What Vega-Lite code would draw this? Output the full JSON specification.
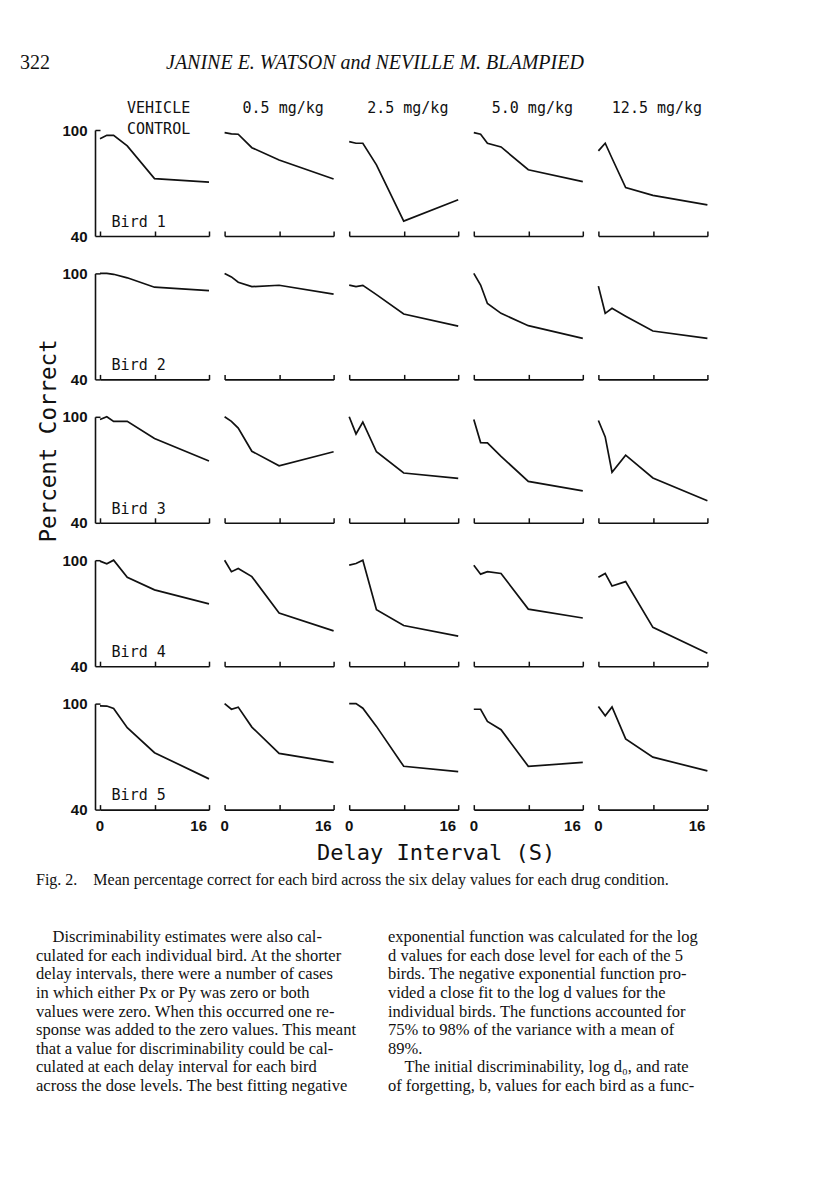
{
  "$schema": "https://vega.github.io/schema/vega-lite/v6.json",
  "background": "white",
  "padding": {"left": 20, "top": 34, "right": 10, "bottom": 5},
  "datasets": {
    "pc": [
      {"bird": "Bird 1", "dose": "VEHICLE\nCONTROL", "delay": 0, "pc": 95},
      {"bird": "Bird 1", "dose": "VEHICLE\nCONTROL", "delay": 1, "pc": 97},
      {"bird": "Bird 1", "dose": "VEHICLE\nCONTROL", "delay": 2, "pc": 97},
      {"bird": "Bird 1", "dose": "VEHICLE\nCONTROL", "delay": 4, "pc": 91},
      {"bird": "Bird 1", "dose": "VEHICLE\nCONTROL", "delay": 8, "pc": 72.5},
      {"bird": "Bird 1", "dose": "VEHICLE\nCONTROL", "delay": 16, "pc": 70.5},
      {"bird": "Bird 1", "dose": "0.5 mg/kg", "delay": 0, "pc": 98.5},
      {"bird": "Bird 1", "dose": "0.5 mg/kg", "delay": 1, "pc": 97.8},
      {"bird": "Bird 1", "dose": "0.5 mg/kg", "delay": 2, "pc": 97.6},
      {"bird": "Bird 1", "dose": "0.5 mg/kg", "delay": 4, "pc": 90},
      {"bird": "Bird 1", "dose": "0.5 mg/kg", "delay": 8, "pc": 83},
      {"bird": "Bird 1", "dose": "0.5 mg/kg", "delay": 16, "pc": 72.3},
      {"bird": "Bird 1", "dose": "2.5 mg/kg", "delay": 0, "pc": 93.4},
      {"bird": "Bird 1", "dose": "2.5 mg/kg", "delay": 1, "pc": 92.5},
      {"bird": "Bird 1", "dose": "2.5 mg/kg", "delay": 2, "pc": 92.5},
      {"bird": "Bird 1", "dose": "2.5 mg/kg", "delay": 4, "pc": 80.3},
      {"bird": "Bird 1", "dose": "2.5 mg/kg", "delay": 8, "pc": 48.4},
      {"bird": "Bird 1", "dose": "2.5 mg/kg", "delay": 16, "pc": 60.5},
      {"bird": "Bird 1", "dose": "5.0 mg/kg", "delay": 0, "pc": 98.5},
      {"bird": "Bird 1", "dose": "5.0 mg/kg", "delay": 1, "pc": 97.6},
      {"bird": "Bird 1", "dose": "5.0 mg/kg", "delay": 2, "pc": 92.5},
      {"bird": "Bird 1", "dose": "5.0 mg/kg", "delay": 4, "pc": 90.4},
      {"bird": "Bird 1", "dose": "5.0 mg/kg", "delay": 8, "pc": 77.5},
      {"bird": "Bird 1", "dose": "5.0 mg/kg", "delay": 16, "pc": 70.8},
      {"bird": "Bird 1", "dose": "12.5 mg/kg", "delay": 0, "pc": 88.2},
      {"bird": "Bird 1", "dose": "12.5 mg/kg", "delay": 1, "pc": 92.5},
      {"bird": "Bird 1", "dose": "12.5 mg/kg", "delay": 2, "pc": 84},
      {"bird": "Bird 1", "dose": "12.5 mg/kg", "delay": 4, "pc": 67.4},
      {"bird": "Bird 1", "dose": "12.5 mg/kg", "delay": 8, "pc": 63},
      {"bird": "Bird 1", "dose": "12.5 mg/kg", "delay": 16, "pc": 57.6},

      {"bird": "Bird 2", "dose": "VEHICLE\nCONTROL", "delay": 0, "pc": 100},
      {"bird": "Bird 2", "dose": "VEHICLE\nCONTROL", "delay": 1, "pc": 100},
      {"bird": "Bird 2", "dose": "VEHICLE\nCONTROL", "delay": 2, "pc": 99.5},
      {"bird": "Bird 2", "dose": "VEHICLE\nCONTROL", "delay": 4, "pc": 97.5},
      {"bird": "Bird 2", "dose": "VEHICLE\nCONTROL", "delay": 8, "pc": 92.2},
      {"bird": "Bird 2", "dose": "VEHICLE\nCONTROL", "delay": 16, "pc": 90.2},
      {"bird": "Bird 2", "dose": "0.5 mg/kg", "delay": 0, "pc": 100},
      {"bird": "Bird 2", "dose": "0.5 mg/kg", "delay": 1, "pc": 98},
      {"bird": "Bird 2", "dose": "0.5 mg/kg", "delay": 2, "pc": 95},
      {"bird": "Bird 2", "dose": "0.5 mg/kg", "delay": 4, "pc": 92.5},
      {"bird": "Bird 2", "dose": "0.5 mg/kg", "delay": 8, "pc": 93.3},
      {"bird": "Bird 2", "dose": "0.5 mg/kg", "delay": 16, "pc": 88.3},
      {"bird": "Bird 2", "dose": "2.5 mg/kg", "delay": 0, "pc": 93.4},
      {"bird": "Bird 2", "dose": "2.5 mg/kg", "delay": 1, "pc": 92.5},
      {"bird": "Bird 2", "dose": "2.5 mg/kg", "delay": 2, "pc": 93.2},
      {"bird": "Bird 2", "dose": "2.5 mg/kg", "delay": 4, "pc": 88},
      {"bird": "Bird 2", "dose": "2.5 mg/kg", "delay": 8, "pc": 77},
      {"bird": "Bird 2", "dose": "2.5 mg/kg", "delay": 16, "pc": 70.2},
      {"bird": "Bird 2", "dose": "5.0 mg/kg", "delay": 0, "pc": 100},
      {"bird": "Bird 2", "dose": "5.0 mg/kg", "delay": 1, "pc": 93.4},
      {"bird": "Bird 2", "dose": "5.0 mg/kg", "delay": 2, "pc": 83},
      {"bird": "Bird 2", "dose": "5.0 mg/kg", "delay": 4, "pc": 77.4},
      {"bird": "Bird 2", "dose": "5.0 mg/kg", "delay": 8, "pc": 70.4},
      {"bird": "Bird 2", "dose": "5.0 mg/kg", "delay": 16, "pc": 63.2},
      {"bird": "Bird 2", "dose": "12.5 mg/kg", "delay": 0, "pc": 92.8},
      {"bird": "Bird 2", "dose": "12.5 mg/kg", "delay": 1, "pc": 77.4},
      {"bird": "Bird 2", "dose": "12.5 mg/kg", "delay": 2, "pc": 80.2},
      {"bird": "Bird 2", "dose": "12.5 mg/kg", "delay": 4, "pc": 75.8},
      {"bird": "Bird 2", "dose": "12.5 mg/kg", "delay": 8, "pc": 67.4},
      {"bird": "Bird 2", "dose": "12.5 mg/kg", "delay": 16, "pc": 63.2},

      {"bird": "Bird 3", "dose": "VEHICLE\nCONTROL", "delay": 0, "pc": 98.5},
      {"bird": "Bird 3", "dose": "VEHICLE\nCONTROL", "delay": 1, "pc": 100},
      {"bird": "Bird 3", "dose": "VEHICLE\nCONTROL", "delay": 2, "pc": 97.4},
      {"bird": "Bird 3", "dose": "VEHICLE\nCONTROL", "delay": 4, "pc": 97.4},
      {"bird": "Bird 3", "dose": "VEHICLE\nCONTROL", "delay": 8, "pc": 87.7},
      {"bird": "Bird 3", "dose": "VEHICLE\nCONTROL", "delay": 16, "pc": 75},
      {"bird": "Bird 3", "dose": "0.5 mg/kg", "delay": 0, "pc": 100},
      {"bird": "Bird 3", "dose": "0.5 mg/kg", "delay": 1, "pc": 97.4},
      {"bird": "Bird 3", "dose": "0.5 mg/kg", "delay": 2, "pc": 93.6},
      {"bird": "Bird 3", "dose": "0.5 mg/kg", "delay": 4, "pc": 80.5},
      {"bird": "Bird 3", "dose": "0.5 mg/kg", "delay": 8, "pc": 72.3},
      {"bird": "Bird 3", "dose": "0.5 mg/kg", "delay": 16, "pc": 80.2},
      {"bird": "Bird 3", "dose": "2.5 mg/kg", "delay": 0, "pc": 100},
      {"bird": "Bird 3", "dose": "2.5 mg/kg", "delay": 1, "pc": 90.3},
      {"bird": "Bird 3", "dose": "2.5 mg/kg", "delay": 2, "pc": 97},
      {"bird": "Bird 3", "dose": "2.5 mg/kg", "delay": 4, "pc": 80.2},
      {"bird": "Bird 3", "dose": "2.5 mg/kg", "delay": 8, "pc": 68.2},
      {"bird": "Bird 3", "dose": "2.5 mg/kg", "delay": 16, "pc": 65.2},
      {"bird": "Bird 3", "dose": "5.0 mg/kg", "delay": 0, "pc": 98.5},
      {"bird": "Bird 3", "dose": "5.0 mg/kg", "delay": 1, "pc": 85.4},
      {"bird": "Bird 3", "dose": "5.0 mg/kg", "delay": 2, "pc": 85.2},
      {"bird": "Bird 3", "dose": "5.0 mg/kg", "delay": 4, "pc": 77.6},
      {"bird": "Bird 3", "dose": "5.0 mg/kg", "delay": 8, "pc": 63.4},
      {"bird": "Bird 3", "dose": "5.0 mg/kg", "delay": 16, "pc": 58.1},
      {"bird": "Bird 3", "dose": "12.5 mg/kg", "delay": 0, "pc": 97.9},
      {"bird": "Bird 3", "dose": "12.5 mg/kg", "delay": 1, "pc": 88.6},
      {"bird": "Bird 3", "dose": "12.5 mg/kg", "delay": 2, "pc": 68.6},
      {"bird": "Bird 3", "dose": "12.5 mg/kg", "delay": 4, "pc": 78.3},
      {"bird": "Bird 3", "dose": "12.5 mg/kg", "delay": 8, "pc": 65.4},
      {"bird": "Bird 3", "dose": "12.5 mg/kg", "delay": 16, "pc": 52.5},

      {"bird": "Bird 4", "dose": "VEHICLE\nCONTROL", "delay": 0, "pc": 99.5},
      {"bird": "Bird 4", "dose": "VEHICLE\nCONTROL", "delay": 1, "pc": 98},
      {"bird": "Bird 4", "dose": "VEHICLE\nCONTROL", "delay": 2, "pc": 100},
      {"bird": "Bird 4", "dose": "VEHICLE\nCONTROL", "delay": 4, "pc": 90.3},
      {"bird": "Bird 4", "dose": "VEHICLE\nCONTROL", "delay": 8, "pc": 83.2},
      {"bird": "Bird 4", "dose": "VEHICLE\nCONTROL", "delay": 16, "pc": 75.3},
      {"bird": "Bird 4", "dose": "0.5 mg/kg", "delay": 0, "pc": 100},
      {"bird": "Bird 4", "dose": "0.5 mg/kg", "delay": 1, "pc": 93.5},
      {"bird": "Bird 4", "dose": "0.5 mg/kg", "delay": 2, "pc": 95.3},
      {"bird": "Bird 4", "dose": "0.5 mg/kg", "delay": 4, "pc": 90.7},
      {"bird": "Bird 4", "dose": "0.5 mg/kg", "delay": 8, "pc": 70.1},
      {"bird": "Bird 4", "dose": "0.5 mg/kg", "delay": 16, "pc": 60},
      {"bird": "Bird 4", "dose": "2.5 mg/kg", "delay": 0, "pc": 97.2},
      {"bird": "Bird 4", "dose": "2.5 mg/kg", "delay": 1, "pc": 98.1},
      {"bird": "Bird 4", "dose": "2.5 mg/kg", "delay": 2, "pc": 100},
      {"bird": "Bird 4", "dose": "2.5 mg/kg", "delay": 4, "pc": 72},
      {"bird": "Bird 4", "dose": "2.5 mg/kg", "delay": 8, "pc": 63},
      {"bird": "Bird 4", "dose": "2.5 mg/kg", "delay": 16, "pc": 57},
      {"bird": "Bird 4", "dose": "5.0 mg/kg", "delay": 0, "pc": 97.2},
      {"bird": "Bird 4", "dose": "5.0 mg/kg", "delay": 1, "pc": 92.1},
      {"bird": "Bird 4", "dose": "5.0 mg/kg", "delay": 2, "pc": 93.5},
      {"bird": "Bird 4", "dose": "5.0 mg/kg", "delay": 4, "pc": 92.5},
      {"bird": "Bird 4", "dose": "5.0 mg/kg", "delay": 8, "pc": 72.3},
      {"bird": "Bird 4", "dose": "5.0 mg/kg", "delay": 16, "pc": 67.3},
      {"bird": "Bird 4", "dose": "12.5 mg/kg", "delay": 0, "pc": 90.3},
      {"bird": "Bird 4", "dose": "12.5 mg/kg", "delay": 1, "pc": 92.5},
      {"bird": "Bird 4", "dose": "12.5 mg/kg", "delay": 2, "pc": 85.4},
      {"bird": "Bird 4", "dose": "12.5 mg/kg", "delay": 4, "pc": 87.9},
      {"bird": "Bird 4", "dose": "12.5 mg/kg", "delay": 8, "pc": 62},
      {"bird": "Bird 4", "dose": "12.5 mg/kg", "delay": 16, "pc": 47.3},

      {"bird": "Bird 5", "dose": "VEHICLE\nCONTROL", "delay": 0, "pc": 98.7},
      {"bird": "Bird 5", "dose": "VEHICLE\nCONTROL", "delay": 1, "pc": 98.6},
      {"bird": "Bird 5", "dose": "VEHICLE\nCONTROL", "delay": 2, "pc": 97.2},
      {"bird": "Bird 5", "dose": "VEHICLE\nCONTROL", "delay": 4, "pc": 86.4},
      {"bird": "Bird 5", "dose": "VEHICLE\nCONTROL", "delay": 8, "pc": 72.2},
      {"bird": "Bird 5", "dose": "VEHICLE\nCONTROL", "delay": 16, "pc": 57.4},
      {"bird": "Bird 5", "dose": "0.5 mg/kg", "delay": 0, "pc": 100},
      {"bird": "Bird 5", "dose": "0.5 mg/kg", "delay": 1, "pc": 96.8},
      {"bird": "Bird 5", "dose": "0.5 mg/kg", "delay": 2, "pc": 98},
      {"bird": "Bird 5", "dose": "0.5 mg/kg", "delay": 4, "pc": 86.7},
      {"bird": "Bird 5", "dose": "0.5 mg/kg", "delay": 8, "pc": 71.8},
      {"bird": "Bird 5", "dose": "0.5 mg/kg", "delay": 16, "pc": 66.7},
      {"bird": "Bird 5", "dose": "2.5 mg/kg", "delay": 0, "pc": 100},
      {"bird": "Bird 5", "dose": "2.5 mg/kg", "delay": 1, "pc": 100},
      {"bird": "Bird 5", "dose": "2.5 mg/kg", "delay": 2, "pc": 97.4},
      {"bird": "Bird 5", "dose": "2.5 mg/kg", "delay": 4, "pc": 87.1},
      {"bird": "Bird 5", "dose": "2.5 mg/kg", "delay": 8, "pc": 64.5},
      {"bird": "Bird 5", "dose": "2.5 mg/kg", "delay": 16, "pc": 61.5},
      {"bird": "Bird 5", "dose": "5.0 mg/kg", "delay": 0, "pc": 96.8},
      {"bird": "Bird 5", "dose": "5.0 mg/kg", "delay": 1, "pc": 96.8},
      {"bird": "Bird 5", "dose": "5.0 mg/kg", "delay": 2, "pc": 89.9},
      {"bird": "Bird 5", "dose": "5.0 mg/kg", "delay": 4, "pc": 85.2},
      {"bird": "Bird 5", "dose": "5.0 mg/kg", "delay": 8, "pc": 64.5},
      {"bird": "Bird 5", "dose": "5.0 mg/kg", "delay": 16, "pc": 66.7},
      {"bird": "Bird 5", "dose": "12.5 mg/kg", "delay": 0, "pc": 98.3},
      {"bird": "Bird 5", "dose": "12.5 mg/kg", "delay": 1, "pc": 93.1},
      {"bird": "Bird 5", "dose": "12.5 mg/kg", "delay": 2, "pc": 98.1},
      {"bird": "Bird 5", "dose": "12.5 mg/kg", "delay": 4, "pc": 80},
      {"bird": "Bird 5", "dose": "12.5 mg/kg", "delay": 8, "pc": 69.7},
      {"bird": "Bird 5", "dose": "12.5 mg/kg", "delay": 16, "pc": 61.9}
    ],
    "head": [
      {"pos": "a", "t": "322"},
      {"pos": "b", "t": "JANINE E. WATSON and NEVILLE M. BLAMPIED"}
    ],
    "body": [
      {"col": "L", "line": 1, "t": "\u200b\u00a0\u00a0\u00a0\u00a0Discriminability estimates were also cal-"},
      {"col": "L", "line": 2, "t": "culated for each individual bird. At the shorter"},
      {"col": "L", "line": 3, "t": "delay intervals, there were a number of cases"},
      {"col": "L", "line": 4, "t": "in which either Px or Py was zero or both"},
      {"col": "L", "line": 5, "t": "values were zero. When this occurred one re-"},
      {"col": "L", "line": 6, "t": "sponse was added to the zero values. This meant"},
      {"col": "L", "line": 7, "t": "that a value for discriminability could be cal-"},
      {"col": "L", "line": 8, "t": "culated at each delay interval for each bird"},
      {"col": "L", "line": 9, "t": "across the dose levels. The best fitting negative"},
      {"col": "R", "line": 1, "t": "exponential function was calculated for the log"},
      {"col": "R", "line": 2, "t": "d values for each dose level for each of the 5"},
      {"col": "R", "line": 3, "t": "birds. The negative exponential function pro-"},
      {"col": "R", "line": 4, "t": "vided a close fit to the log d values for the"},
      {"col": "R", "line": 5, "t": "individual birds. The functions accounted for"},
      {"col": "R", "line": 6, "t": "75% to 98% of the variance with a mean of"},
      {"col": "R", "line": 7, "t": "89%."},
      {"col": "R", "line": 8, "t": "\u200b\u00a0\u00a0\u00a0\u00a0The initial discriminability, log d\u2080, and rate"},
      {"col": "R", "line": 9, "t": "of forgetting, b, values for each bird as a func-"}
    ]
  },
  "columns": 1,
  "align": "none",
  "spacing": 8,
  "concat": [
    {
      "data": {"name": "head"},
      "width": 292,
      "height": 58,
      "encoding": {
        "x": {"field": "pos", "type": "nominal", "bandPosition": 0, "scale": {"type": "band", "paddingInner": 0, "paddingOuter": 0}, "axis": null},
        "text": {"field": "t"}
      },
      "layer": [
        {
          "transform": [{"filter": "datum.pos == 'a'"}],
          "mark": {"type": "text", "align": "left", "baseline": "middle", "dx": -80, "font": "Liberation Serif", "fontSize": 20, "color": "#111"}
        },
        {
          "transform": [{"filter": "datum.pos == 'b'"}],
          "mark": {"type": "text", "align": "left", "baseline": "middle", "dx": -80, "font": "Liberation Serif", "fontSize": 20, "fontStyle": "italic", "color": "#111"}
        }
      ]
    },
    {
      "data": {"name": "pc"},
      "facet": {
        "row": {
          "field": "bird",
          "type": "nominal",
          "header": {
            "title": "\u200b\u00a0\u00a0\u00a0\u00a0Percent Correct",
            "labels": false,
            "titleFont": "DejaVu Sans Mono",
            "titleFontSize": 22.5,
            "titleFontWeight": "normal",
            "titleColor": "#111",
            "titlePadding": -9
          }
        },
        "column": {
          "field": "dose",
          "type": "nominal",
          "sort": ["VEHICLE\nCONTROL", "0.5 mg/kg", "2.5 mg/kg", "5.0 mg/kg", "12.5 mg/kg"],
          "header": {
            "title": "\u200b\u00a0\u00a0\u00a0\u00a0\u00a0Delay Interval (S)",
            "titleOrient": "bottom",
            "labels": false,
            "titleFont": "DejaVu Sans Mono",
            "titleFontSize": 22,
            "titleFontWeight": "normal",
            "titleColor": "#111",
            "titlePadding": -2
          }
        }
      },
      "spacing": {"row": 8.4, "column": 6.6},
      "resolve": {"axis": {"x": "independent"}},
      "spec": {
        "width": 109,
        "height": 106,
        "layer": [
          {
            "mark": {"type": "line", "color": "#111", "strokeWidth": 1.7},
            "encoding": {
              "x": {"field": "delay", "type": "quantitative", "scale": {"domain": [0, 16], "nice": false, "zero": false},
                "axis": {"title": null, "values": [0, 4, 8, 12, 16], "labels": false, "tickSize": -5, "tickWidth": 1.5, "tickColor": "#111", "domainColor": "#111", "domainWidth": 1.6, "grid": false}},
              "y": {"field": "pc", "type": "quantitative", "scale": {"domain": [40, 100], "nice": false, "zero": false},
                "axis": {"title": null, "values": [40, 60, 80, 100], "tickSize": -5, "tickWidth": 1.5, "tickColor": "#111", "domainColor": "#111", "domainWidth": 1.6, "grid": false, "labelFont": "Liberation Sans", "labelFontSize": 15, "labelFontWeight": "bold", "labelColor": "#111", "labelPadding": 13}}
            }
          },
          {
            "transform": [{"filter": "datum.delay == 0 && indexof(datum.dose, 'VEHICLE') == 0"}],
            "mark": {"type": "text", "align": "left", "baseline": "middle", "font": "DejaVu Sans Mono", "fontSize": 15, "color": "#111"},
            "encoding": {
              "x": {"datum": 1.7, "type": "quantitative"},
              "y": {"datum": 48, "type": "quantitative"},
              "text": {"field": "bird"}
            }
          },
          {
            "transform": [{"filter": "datum.delay == 0 && datum.bird == 'Bird 1'"}],
            "mark": {"type": "text", "align": "center", "baseline": "top", "font": "DejaVu Sans Mono", "fontSize": 15, "color": "#111", "lineBreak": "\n", "lineHeight": 21},
            "encoding": {
              "x": {"datum": 8.6, "type": "quantitative"},
              "y": {"datum": 116.5, "type": "quantitative"},
              "text": {"field": "dose"}
            }
          },
          {
            "transform": [{"filter": "datum.bird == 'Bird 5' && datum.delay == 0"}],
            "mark": {"type": "text", "align": "center", "baseline": "middle", "font": "Liberation Sans", "fontSize": 15, "fontWeight": "bold", "color": "#111"},
            "encoding": {
              "x": {"field": "delay", "type": "quantitative"},
              "y": {"datum": 30.5, "type": "quantitative"},
              "text": {"field": "delay"}
            }
          },
          {
            "transform": [{"filter": "datum.bird == 'Bird 5' && datum.delay == 16"}],
            "mark": {"type": "text", "align": "right", "baseline": "middle", "dx": -2, "font": "Liberation Sans", "fontSize": 15, "fontWeight": "bold", "color": "#111"},
            "encoding": {
              "x": {"field": "delay", "type": "quantitative"},
              "y": {"datum": 30.5, "type": "quantitative"},
              "text": {"field": "delay"}
            }
          }
        ]
      }
    },
    {
      "data": {"name": "body"},
      "width": 704,
      "height": 167,
      "title": {
        "text": "Fig. 2.\u00a0\u00a0\u00a0\u00a0Mean percentage correct for each bird across the six delay values for each drug condition.",
        "anchor": "start",
        "frame": "group",
        "dx": -64,
        "font": "Liberation Serif",
        "fontSize": 16,
        "fontWeight": "normal",
        "color": "#111",
        "offset": 40
      },
      "mark": {"type": "text", "align": "left", "baseline": "middle", "dx": -64, "font": "Liberation Serif", "fontSize": 16.5, "color": "#111"},
      "encoding": {
        "x": {"field": "col", "type": "nominal", "bandPosition": 0, "scale": {"type": "band", "paddingInner": 0, "paddingOuter": 0}, "axis": null},
        "y": {"field": "line", "type": "ordinal", "scale": {"type": "point", "padding": 0.5}, "axis": null},
        "text": {"field": "t"}
      }
    }
  ],
  "config": {
    "view": {"stroke": null},
    "font": "DejaVu Sans Mono"
  }
}
